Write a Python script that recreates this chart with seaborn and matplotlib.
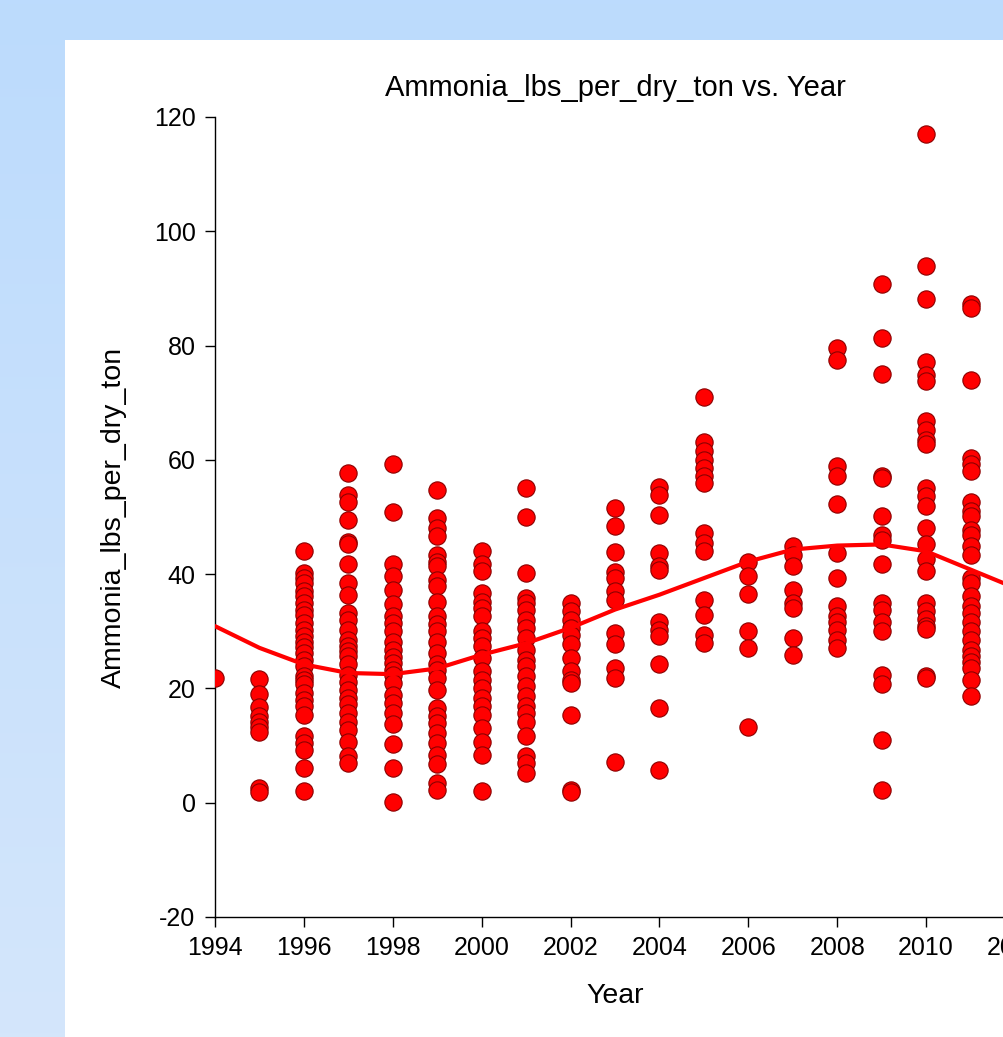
import numpy as np
import pandas as pd
import matplotlib
matplotlib.use("Agg")
import matplotlib.pyplot as plt
import seaborn as sns
from matplotlib.patches import Rectangle
from matplotlib.colors import LinearSegmentedColormap

# values, one list per year
y1994 = [21.9]
y1995 = [21.7, 19.1, 16.8, 15.1, 14.2, 13.3, 12.3, 2.6, 1.8]
y1996 = [44.0, 40.2, 39.3, 38.4, 37.0, 36.1, 34.9, 33.8, 32.9, 31.4, 30.3, 29.2, 28.2, 27.2,
         26.2, 25.0, 23.9, 22.1, 21.4, 20.7, 19.2, 18.0, 16.9, 15.4, 11.6, 10.4, 9.3, 6.1, 2.0]
y1997 = [57.7, 53.9, 52.7, 49.5, 45.7, 45.2, 41.7, 38.4, 36.4, 33.2, 32.0, 30.3, 28.5, 27.4,
         26.5, 25.6, 24.2, 22.4, 21.2, 19.8, 18.3, 17.2, 15.7, 14.2, 12.8, 10.7, 8.1, 6.9]
y1998 = [59.3, 50.8, 41.7, 39.6, 37.3, 34.7, 32.6, 31.4, 30.0, 28.2, 26.8, 25.5, 24.4, 23.3,
         22.4, 20.9, 18.9, 17.4, 15.7, 13.7, 10.2, 6.1, 0.2]
y1999 = [54.8, 49.8, 48.1, 46.6, 43.4, 42.2, 41.4, 39.0, 37.9, 35.2, 32.6, 31.2, 30.0, 28.2,
         26.2, 24.2, 23.3, 21.8, 19.8, 16.6, 15.1, 13.9, 12.2, 10.4, 8.4, 6.7, 3.4, 2.3]
y2000 = [44.0, 41.7, 40.5, 36.7, 35.2, 34.1, 32.6, 30.0, 28.8, 27.4, 25.3, 23.0, 21.5, 20.1,
         18.3, 16.9, 15.4, 13.1, 10.7, 8.4, 2.0]
y2001 = [55.1, 50.0, 40.2, 35.8, 34.9, 33.8, 32.0, 30.6, 28.8, 26.8, 25.0, 23.9, 22.1, 20.4,
         18.6, 16.9, 15.7, 14.2, 11.6, 8.1, 6.9, 5.2]
y2002 = [34.9, 33.5, 32.0, 30.6, 29.4, 27.7, 25.3, 23.0, 21.5, 20.9, 15.4, 2.3, 1.8]
y2003 = [51.6, 48.5, 43.8, 40.3, 39.3, 37.0, 35.5, 29.7, 27.7, 23.6, 21.8, 7.2]
y2004 = [55.2, 53.9, 50.4, 43.7, 41.4, 40.8, 31.7, 30.3, 29.1, 24.2, 16.6, 5.8]
y2005 = [71.0, 63.1, 61.5, 60.0, 58.6, 57.1, 56.0, 47.2, 45.4, 44.0, 35.4, 32.9, 29.4, 27.9]
y2006 = [42.2, 39.6, 36.5, 30.0, 27.1, 13.2]
y2007 = [44.9, 43.4, 41.5, 37.2, 34.9, 34.1, 28.8, 25.9]
y2008 = [79.6, 77.4, 58.9, 57.1, 52.2, 43.7, 39.3, 34.4, 32.6, 31.7, 30.3, 28.5, 27.1]
y2009 = [90.7, 81.3, 75.1, 57.1, 56.8, 50.2, 46.9, 46.0, 41.7, 34.9, 33.8, 31.7, 30.0, 22.4,
         20.7, 11.0, 2.3]
y2010 = [117.1, 94.0, 88.2, 77.1, 74.8, 73.8, 66.8, 65.3, 63.5, 62.8, 55.0, 53.6, 51.9, 48.0,
         45.2, 42.6, 40.5, 35.0, 33.6, 32.2, 31.0, 30.4, 22.2, 21.8]
y2011 = [87.2, 86.6, 73.9, 60.4, 59.3, 58.0, 52.7, 51.0, 50.1, 47.8, 46.9, 44.9, 43.4, 39.3,
         38.4, 36.1, 34.4, 33.2, 31.7, 30.0, 28.5, 26.8, 25.6, 24.7, 23.6, 21.5, 18.6]

years = list(range(1994, 2012))
per_year = [y1994, y1995, y1996, y1997, y1998, y1999, y2000, y2001, y2002,
            y2003, y2004, y2005, y2006, y2007, y2008, y2009, y2010, y2011]

# smoothed trend, read at each year
trend_years = list(range(1994, 2013))
trend_values = [30.9, 27.1, 24.2, 22.7, 22.5, 23.5, 25.9, 27.9, 30.6, 33.8,
                36.4, 39.3, 42.2, 44.3, 45.0, 45.2, 44.0, 40.8, 37.6]

rows = []
for yr, vals in zip(years, per_year):
    for v in vals:
        rows.append((yr, v))
df = pd.DataFrame(rows, columns=["Year", "Ammonia_lbs_per_dry_ton"])

sns.set_style("ticks")
plt.rcParams['font.family'] = ['Liberation Sans', 'DejaVu Sans']
plt.rcParams['axes.unicode_minus'] = False
plt.rcParams['text.color'] = 'black'
plt.rcParams['axes.labelcolor'] = 'black'

W, H = 1004, 1037
fig = plt.figure(figsize=(W / 100, H / 100), dpi=100)

# blue backdrop with white panel
bg = fig.add_axes([0, 0, 1, 1])
bg.set_axis_off()
cmap = LinearSegmentedColormap.from_list("bg", ["#bcdbfd", "#d4e6fb"])
bg.imshow(np.linspace(0, 1, 256).reshape(-1, 1), aspect="auto", cmap=cmap,
          extent=[0, 1, 0, 1], origin="upper")
bg.add_patch(Rectangle((65 / W, 0), 1, 1 - 40 / H, facecolor="white", edgecolor="none"))
bg.set_xlim(0, 1)
bg.set_ylim(0, 1)

ax = fig.add_axes([215 / W, 120 / H, 800 / W, 800 / H])
ax.patch.set_alpha(0)

sns.scatterplot(data=df, x="Year", y="Ammonia_lbs_per_dry_ton", color="#ff0000",
                edgecolor="#8b0000", linewidth=0.8, s=155, ax=ax, zorder=3)
sns.lineplot(x=trend_years, y=trend_values, color="#ff0000", linewidth=3, ax=ax, zorder=4)

ax.set_xlim(1994, 2012)
ax.set_ylim(-20, 120)
ax.set_xticks(range(1994, 2013, 2))
ax.set_yticks(range(-20, 121, 20))
sns.despine(ax=ax)
for s in ["left", "bottom"]:
    ax.spines[s].set_color("black")
    ax.spines[s].set_linewidth(1.0)
ax.tick_params(direction="out", length=7, width=1, labelsize=18, colors="black")
ax.tick_params(axis="x", pad=7)
ax.tick_params(axis="y", pad=7)

ax.set_title("Ammonia_lbs_per_dry_ton vs. Year", fontsize=21, pad=15, color="black")
ax.set_xlabel("Year", fontsize=20.5)
ax.set_ylabel("Ammonia_lbs_per_dry_ton", fontsize=20.5)
ax.xaxis.set_label_coords(0.5, -0.083)
ax.yaxis.set_label_coords(-0.11, 0.5)

fig.savefig("out.png", dpi=100)
